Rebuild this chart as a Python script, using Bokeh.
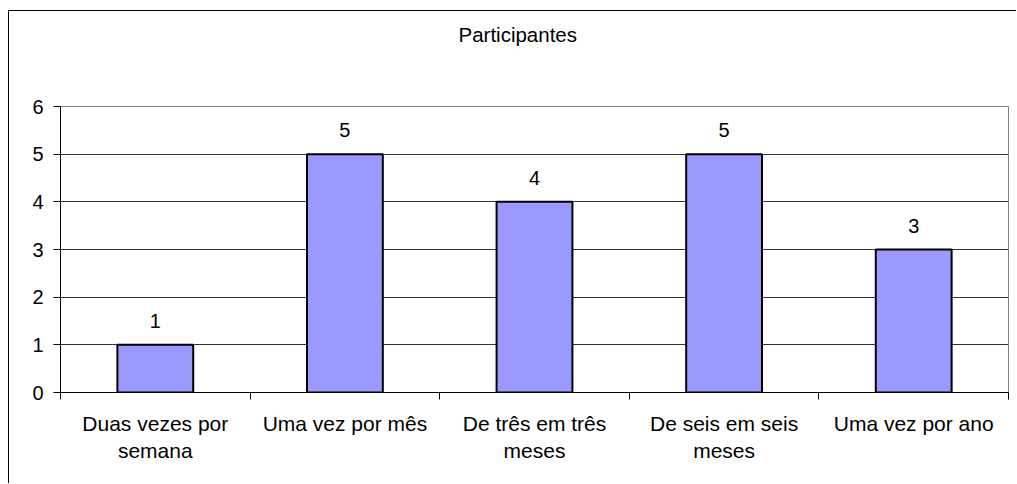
import numpy as np
from bokeh.plotting import figure
from bokeh.models import FixedTicker, Range1d, ColumnDataSource, Title
from bokeh.core.properties import value
from bokeh.embed import file_html
from bokeh.resources import INLINE

# Frequency categories and number of participants in each
categories = [
    "Duas vezes por\nsemana",
    "Uma vez por mês",
    "De três em três\nmeses",
    "De seis em seis\nmeses",
    "Uma vez por ano",
]
participants = [1, 5, 4, 5, 3]
y_ticks = [0, 1, 2, 3, 4, 5, 6]
chart_title = "Participantes"

FONT = "Liberation Sans"

# bars sit in the middle of each category slot
x_pos = [i + 0.5 for i in range(len(categories))]
slot_edges = list(range(len(categories) + 1))

source = ColumnDataSource(dict(
    x=x_pos,
    top=participants,
    label=[str(v) for v in participants],
))

p = figure(
    width=1008, height=473,
    x_range=Range1d(0, len(categories)),
    y_range=Range1d(y_ticks[0], y_ticks[-1]),
    output_backend="svg",
    toolbar_location=None,
    min_border_left=51, min_border_right=9,
    min_border_top=95, min_border_bottom=92,
)
p.margin = (10, 0, 0, 8)
p.styles = {"border-left": "1px solid #000", "border-top": "1px solid #000"}
p.background_fill_color = "white"
p.border_fill_color = "white"
p.outline_line_color = "#808080"
p.outline_line_width = 1
p.title.text = ""

# empty spacer between the frame and the title, then the title itself,
# centred on the whole chart box (slightly left of the frame centre)
p.add_layout(Title(text=" ", text_font_size="1px", standoff=58), "above")
p.add_layout(Title(
    text=chart_title, align="left", offset=398, standoff=0,
    text_font=FONT, text_font_size="20.5px", text_font_style="normal",
    text_color="black",
), "above")

# bars
p.vbar(x="x", top="top", width=0.4, source=source,
       fill_color="#9999FF", line_color="black", line_width=2)

# value labels above bars
p.text(x="x", y="top", text="label", source=source,
       text_align="center", text_baseline="alphabetic", y_offset=-24,
       text_font=value(FONT), text_font_size="20px", text_color="black")

# y axis
yax = p.yaxis[0]
yax.ticker = FixedTicker(ticks=y_ticks)
yax.axis_line_color = "black"
yax.major_tick_line_color = "black"
yax.major_tick_out = 7
yax.major_tick_in = 0
yax.minor_tick_line_color = None
yax.major_label_standoff = 10
yax.major_label_text_font = FONT
yax.major_label_text_font_size = "20px"
yax.major_label_text_color = "black"

# x axis: labels at slot centres, tick marks at slot boundaries
xax = p.xaxis[0]
xax.ticker = FixedTicker(ticks=x_pos, minor_ticks=slot_edges)
xax.major_label_overrides = {float(xp): c for xp, c in zip(x_pos, categories)}
xax.axis_line_color = "black"
xax.major_tick_line_color = None
xax.major_tick_out = 7
xax.major_tick_in = 0
xax.minor_tick_line_color = "black"
xax.minor_tick_out = 7
xax.minor_tick_in = 0
xax.major_label_standoff = 12
xax.major_label_text_font = FONT
xax.major_label_text_font_size = "21px"
xax.major_label_text_color = "black"

# grid
p.xgrid.visible = False
p.ygrid.grid_line_color = "#333333"
p.ygrid.grid_line_width = 1

open("out.html", "w").write(file_html(p, INLINE))
